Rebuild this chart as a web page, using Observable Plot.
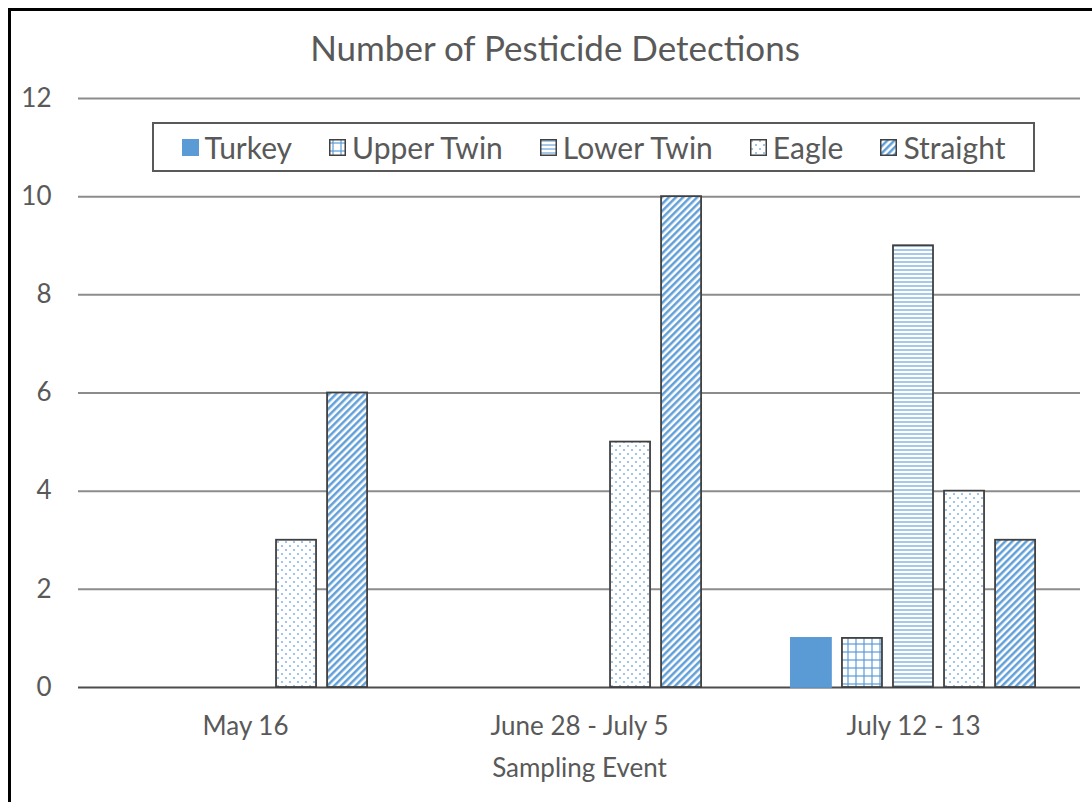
<!DOCTYPE html>
<html>
<head>
<meta charset="utf-8">
<script src="https://cdn.jsdelivr.net/npm/d3@7"></script>
<script src="https://cdn.jsdelivr.net/npm/@observablehq/plot@0.6"></script>
<style>
  html, body { margin: 0; padding: 0; background: #fff; }
  body { width: 1092px; height: 802px; position: relative; overflow: hidden; font-family: Lato, "Open Sans", sans-serif; }
  #frame { position: absolute; left: 8px; top: 8px; width: 1100px; height: 791px;
           border-left: 3px solid #000; border-top: 3px solid #000; border-bottom: 1px solid #d9d9d9; }
  #title { position: absolute; left: 0; width: 1110px; top: 26px; text-align: center;
           font-size: 35px; color: #595959; }
  #chart { position: absolute; left: 0; top: 0; }
  #legend { position: absolute; left: 152px; top: 122px; width: 879px; height: 46px;
            border: 2px solid #595959; background: #fff; display: flex; align-items: center;
            justify-content: center; gap: 37px; font-size: 30px; color: #595959; }
  .item { display: flex; align-items: center; gap: 6px; }
  .item svg { display: block; }
</style>
</head>
<body>
<svg width="0" height="0" style="position:absolute">
  <defs>
    <pattern id="p-upper" patternUnits="userSpaceOnUse" width="8" height="8">
      <rect width="8" height="8" fill="#fff"/>
      <line x1="0" y1="4" x2="8" y2="4" stroke="#5b9bd5" stroke-width="1.2"/>
      <line x1="4" y1="0" x2="4" y2="8" stroke="#5b9bd5" stroke-width="1.2"/>
    </pattern>
    <pattern id="p-lower" patternUnits="userSpaceOnUse" width="4" height="4">
      <rect width="4" height="4" fill="#fff"/>
      <line x1="0" y1="2" x2="4" y2="2" stroke="#7fb0e0" stroke-width="1.4"/>
    </pattern>
    <pattern id="p-eagle" patternUnits="userSpaceOnUse" width="8" height="8">
      <rect width="8" height="8" fill="#fff"/>
      <circle cx="2" cy="2" r="1.1" fill="#8ab8e4"/>
      <circle cx="6" cy="6" r="1.1" fill="#8ab8e4"/>
    </pattern>
    <pattern id="p-straight" patternUnits="userSpaceOnUse" width="5" height="5" patternTransform="rotate(45)">
      <rect width="5" height="5" fill="#fff"/>
      <line x1="1.3" y1="0" x2="1.3" y2="5" stroke="#5b9bd5" stroke-width="2.4"/>
    </pattern>
  </defs>
</svg>
<div id="frame"></div>
<div id="chart"></div>
<div id="title">Number of Pesticide Detections</div>
<div id="legend"></div>
<script>
const events = ["May 16", "June 28 - July 5", "July 12 - 13"];
const sites = ["Turkey", "Upper Twin", "Lower Twin", "Eagle", "Straight"];
const turkey = [0, 0, 1];
const upperTwin = [0, 0, 1];
const lowerTwin = [0, 0, 9];
const eagle = [3, 5, 4];
const straight = [6, 10, 3];
const yTicks = [0, 2, 4, 6, 8, 10, 12];
const xLabel = "Sampling Event";

const fills = ["#5b9bd5", "url(#p-upper)", "url(#p-lower)", "url(#p-eagle)", "url(#p-straight)"];
const seriesValues = [turkey, upperTwin, lowerTwin, eagle, straight];

const data = [];
events.forEach((ev, i) => {
  sites.forEach((s, j) => data.push({event: ev, site: s, count: seriesValues[j][i]}));
});

const chart = Plot.plot({
  width: 1092,
  height: 802,
  marginLeft: 78,
  marginRight: 12,
  marginTop: 98,
  marginBottom: 115,
  style: {background: "transparent", fontFamily: "Lato, 'Open Sans', sans-serif", fontSize: "26px", color: "#595959", overflow: "visible"},
  fx: {domain: events, padding: 0},
  x: {domain: sites, paddingInner: 0.216, paddingOuter: 0.88, round: false, axis: null},
  y: {domain: [0, 12]},
  color: {domain: sites, range: fills},
  marks: [
    Plot.ruleY(yTicks.filter(d => d > 0), {stroke: "#8c8c8c", strokeWidth: 2}),
    Plot.ruleY([0], {stroke: "#4d4d4d", strokeWidth: 2}),
    Plot.barY(data.filter(d => d.count > 0), {
      fx: "event", x: "site", y: "count", fill: "site",
      stroke: d => d.site === "Turkey" ? "#5b9bd5" : "#404040",
      strokeWidth: 1.8
    }),
    Plot.axisY({ticks: yTicks, tickSize: 0, tickPadding: 27, label: null, fontSize: 26}),
    Plot.axisFx({anchor: "bottom", tickSize: 0, tickPadding: 29, fontSize: 26,
                 label: xLabel, labelAnchor: "center", labelArrow: "none", labelOffset: 89})
  ]
});
document.getElementById("chart").appendChild(chart);

const legend = document.getElementById("legend");
sites.forEach((s, j) => {
  const item = document.createElement("div");
  item.className = "item";
  const stroke = j === 0 ? "#5b9bd5" : "#404040";
  item.innerHTML = `<svg width="17" height="17"><rect x="0.75" y="0.75" width="15.5" height="15.5" fill="${fills[j]}" stroke="${stroke}" stroke-width="1.5"/></svg><span>${s}</span>`;
  legend.appendChild(item);
});
</script>
</body>
</html>
